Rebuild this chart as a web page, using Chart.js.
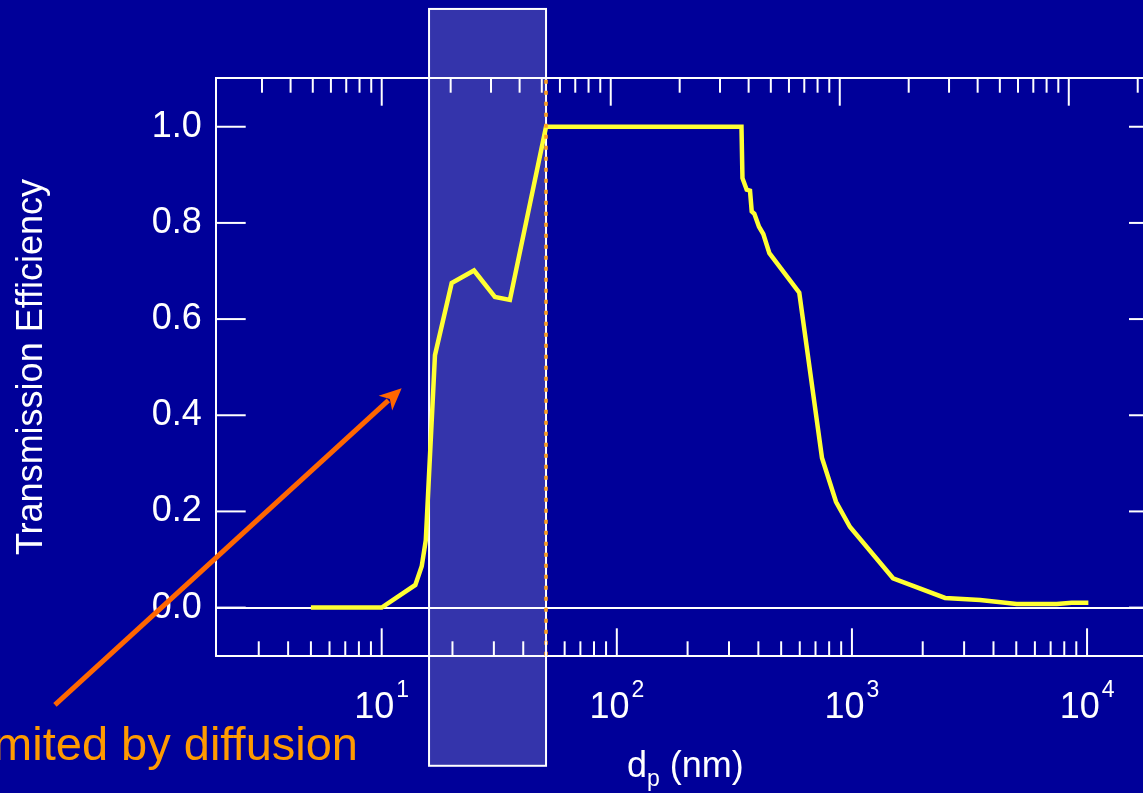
<!DOCTYPE html>
<html>
<head>
<meta charset="utf-8">
<script src="https://cdn.jsdelivr.net/npm/chart.js@4/dist/chart.umd.min.js"></script>
<style>
  html, body { margin: 0; padding: 0; background: #000099; overflow: hidden; }
  canvas { display: block; }
</style>
</head>
<body>
<canvas id="c" width="1200" height="793"></canvas>
<script>
// Particle diameter (nm) and measured transmission efficiency
const dp  = [5, 10, 13.9, 14.8, 15.4, 16.85, 19.85, 24.7, 30.3, 35.1, 50,
             339, 342.3, 356.8, 368.6, 374.8, 384.6, 402.5, 419.8, 445.5, 597,
             746, 855.6, 981.6, 1496, 2490, 3508, 5023, 7430, 8610, 10130];
const eff = [0, 0, 0.047, 0.086, 0.14, 0.525, 0.675, 0.701, 0.646, 0.640, 1.0,
             1.0, 0.893, 0.869, 0.867, 0.824, 0.819, 0.792, 0.777, 0.737, 0.655,
             0.311, 0.22, 0.1675, 0.061, 0.020, 0.0156, 0.0075, 0.0075, 0.010, 0.010];

// Axis ticks and labels
const yTicks = [0, 0.2, 0.4, 0.6, 0.8, 1.0];
const xDecades = [1, 2, 3, 4];
const yTitle = 'Transmission Efficiency';
const xTitleMain = 'd', xTitleSub = 'p', xTitleUnit = ' (nm)';
const noteText = 'Limited by diffusion';

// Diffusion-limited size band (nm) and the cut at its upper edge
const bandDp = [15.9, 50];
const bandEff = [-0.329, 1.245];
const cutDp = 50;
const arrowFrom = [0.4077, -0.2025];
const arrowTo = [12.16, 0.456];

const FONT = '"Liberation Sans", Arial, Helvetica, sans-serif';
const BG = '#000099';

const deco = {
  id: 'deco',
  beforeDraw(chart) {
    const ctx = chart.ctx, x = chart.scales.x, y = chart.scales.y;
    ctx.save();
    ctx.fillStyle = BG;
    ctx.fillRect(0, 0, chart.width, chart.height);
    const l = x.getPixelForValue(bandDp[0]), r = x.getPixelForValue(bandDp[1]);
    const t = y.getPixelForValue(bandEff[1]), b = y.getPixelForValue(bandEff[0]);
    ctx.fillStyle = '#3434ab';
    ctx.fillRect(l, t, r - l, b - t);
    ctx.strokeStyle = '#ffffff';
    ctx.lineWidth = 2;
    ctx.strokeRect(l, t, r - l, b - t);
    ctx.restore();
  },
  afterDraw(chart) {
    const ctx = chart.ctx, a = chart.chartArea;
    const x = chart.scales.x, x2 = chart.scales.x2, y = chart.scales.y;
    ctx.save();

    // dotted cut line
    const cx = Math.round(x.getPixelForValue(cutDp));
    ctx.strokeStyle = '#ffa01e';
    ctx.lineWidth = 3.5;
    ctx.setLineDash([4, 7]);
    ctx.beginPath(); ctx.moveTo(cx, a.top + 2); ctx.lineTo(cx, a.bottom); ctx.stroke();
    ctx.setLineDash([]);

    // inward log ticks on bottom and top axes
    ctx.strokeStyle = '#ffffff';
    ctx.lineWidth = 2;
    const logTicks = (scale, edge, dir) => {
      for (let e = 0; e <= 4; e++) {
        for (let m = 1; m <= 9; m++) {
          const v = m * Math.pow(10, e);
          if (v < scale.min || v > scale.max) continue;
          const px = scale.getPixelForValue(v);
          if (px < a.left + 6 || px > a.right - 6) continue;
          const len = m === 1 ? 28 : 15;
          ctx.beginPath(); ctx.moveTo(px, edge); ctx.lineTo(px, edge + dir * len); ctx.stroke();
        }
      }
    };
    logTicks(x, a.bottom, -1);
    logTicks(x2, a.top, 1);

    // inward ticks on left and right axes
    yTicks.forEach(v => {
      const py = y.getPixelForValue(v);
      ctx.beginPath(); ctx.moveTo(a.left, py); ctx.lineTo(a.left + 30, py); ctx.stroke();
      ctx.beginPath(); ctx.moveTo(a.right, py); ctx.lineTo(a.right - 30, py); ctx.stroke();
    });

    // power-of-ten labels on bottom axis
    ctx.fillStyle = '#ffffff';
    ctx.textBaseline = 'alphabetic';
    ctx.textAlign = 'left';
    xDecades.forEach(e => {
      const px = x.getPixelForValue(Math.pow(10, e));
      ctx.font = '36px ' + FONT;
      const w1 = ctx.measureText('10').width;
      ctx.font = '23px ' + FONT;
      const w2 = ctx.measureText(String(e)).width;
      const start = px - (w1 + 2 + w2) / 2;
      ctx.font = '36px ' + FONT;
      ctx.fillText('10', start, 718);
      ctx.font = '23px ' + FONT;
      ctx.fillText(String(e), start + w1 + 2, 697);
    });

    // x axis title with subscript
    ctx.font = '36px ' + FONT;
    const wd = ctx.measureText(xTitleMain).width;
    const wu = ctx.measureText(xTitleUnit).width;
    ctx.font = '23px ' + FONT;
    const wp = ctx.measureText(xTitleSub).width;
    const tx = (a.left + a.right) / 2 - (wd + wp + wu) / 2 - 2;
    ctx.font = '36px ' + FONT;
    ctx.fillText(xTitleMain, tx, 777);
    ctx.fillText(xTitleUnit, tx + wd + wp, 777);
    ctx.font = '23px ' + FONT;
    ctx.fillText(xTitleSub, tx + wd, 786);

    // y axis title
    ctx.save();
    ctx.translate(42, (a.top + a.bottom) / 2);
    ctx.rotate(-Math.PI / 2);
    ctx.textAlign = 'center';
    ctx.font = '36px ' + FONT;
    ctx.fillText(yTitle, 0, 0);
    ctx.restore();

    // annotation arrow
    const ax0 = x.getPixelForValue(arrowFrom[0]), ay0 = y.getPixelForValue(arrowFrom[1]);
    const ax1 = x.getPixelForValue(arrowTo[0]), ay1 = y.getPixelForValue(arrowTo[1]);
    const ang = Math.atan2(ay1 - ay0, ax1 - ax0);
    const headL = 22, headW = 10;
    const bx = ax1 - headL * Math.cos(ang), by = ay1 - headL * Math.sin(ang);
    ctx.strokeStyle = '#ff6600';
    ctx.fillStyle = '#ff6600';
    ctx.lineWidth = 5;
    ctx.beginPath(); ctx.moveTo(ax0, ay0); ctx.lineTo(bx + 4 * Math.cos(ang), by + 4 * Math.sin(ang)); ctx.stroke();
    ctx.beginPath();
    ctx.moveTo(ax1, ay1);
    ctx.lineTo(bx + headW * Math.sin(ang), by - headW * Math.cos(ang));
    ctx.lineTo(bx + 6 * Math.cos(ang), by + 6 * Math.sin(ang));
    ctx.lineTo(bx - headW * Math.sin(ang), by + headW * Math.cos(ang));
    ctx.closePath(); ctx.fill();

    // annotation text
    ctx.fillStyle = '#ff9a00';
    ctx.font = '47px ' + FONT;
    ctx.textAlign = 'right';
    ctx.fillText(noteText, 358, 760);

    ctx.restore();
  }
};

const points = dp.map((d, i) => ({ x: d, y: eff[i] }));

new Chart(document.getElementById('c'), {
  type: 'line',
  data: {
    datasets: [{
      data: points,
      borderColor: '#ffff33',
      borderWidth: 4.5,
      pointRadius: 0,
      tension: 0,
      fill: false,
      borderJoinStyle: 'miter'
    }]
  },
  options: {
    responsive: false,
    animation: false,
    devicePixelRatio: 1,
    layout: { padding: { left: 0, top: 77.7, right: 41, bottom: 136.7 } },
    plugins: { legend: { display: false }, tooltip: { enabled: false } },
    scales: {
      x: {
        type: 'logarithmic', position: 'bottom',
        min: 1.968, max: 20230,
        ticks: { display: false },
        grid: { display: false },
        border: { display: true, color: '#ffffff', width: 2 },
        afterFit: s => { s.height = 0; }
      },
      x2: {
        type: 'logarithmic', position: 'top',
        min: 1.884, max: 24770,
        ticks: { display: false },
        grid: { display: false },
        border: { display: true, color: '#ffffff', width: 2 },
        afterFit: s => { s.height = 0; }
      },
      y: {
        type: 'linear', position: 'left',
        min: -0.1013, max: 1.102,
        afterBuildTicks: s => { s.ticks = yTicks.map(v => ({ value: v })); },
        afterFit: s => { s.width = 215.7; },
        ticks: {
          color: '#ffffff', padding: 14,
          font: { family: FONT, size: 36 },
          callback: v => Number(v).toFixed(1)
        },
        grid: {
          drawTicks: false,
          lineWidth: 2,
          color: c => (c.tick && c.tick.value === 0) ? '#ffffff' : 'rgba(0,0,0,0)'
        },
        border: { display: true, color: '#ffffff', width: 2 }
      },
      y2: {
        type: 'linear', position: 'right',
        min: -0.1013, max: 1.102,
        ticks: { display: false },
        grid: { display: false },
        border: { display: true, color: '#ffffff', width: 2 },
        afterFit: s => { s.width = 0; }
      }
    }
  },
  plugins: [deco]
});
</script>
</body>
</html>
